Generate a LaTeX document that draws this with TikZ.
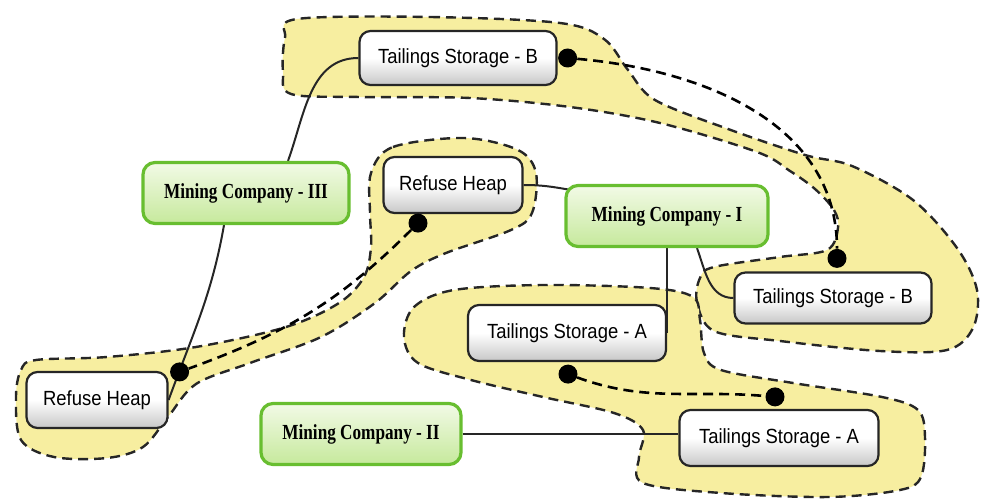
\documentclass[tikz,border=0pt]{standalone}
\usepackage{xcolor}
\usepackage{fontspec}
\setmainfont{Liberation Serif}
\newfontfamily\storefont{Liberation Sans}[FakeStretch=0.9]
\newfontfamily\firmfont{Liberation Serif}[FakeStretch=0.8]
\usepackage{tikz}
\usetikzlibrary{positioning,backgrounds,calc}
\definecolor{zoneyellow}{RGB}{247,238,160}
\definecolor{firmgreen}{RGB}{104,190,48}
\definecolor{firmtop}{RGB}{242,250,230}
\definecolor{firmbottom}{RGB}{198,233,156}

\begin{document}
\begin{tikzpicture}[
        x=1pt, y=-1pt,
        store/.style={rectangle, rounded corners=11pt, draw=black!85, line width=2.2pt, top color=white, bottom color=black!22, middle color=white, minimum width=197pt, minimum height=54pt, font=\storefont\fontsize{20.5}{22}\selectfont},
        firm/.style={rectangle, rounded corners=12pt, draw=firmgreen, line width=3.2pt, top color=firmtop, bottom color=firmbottom, minimum width=202pt, minimum height=61pt, font=\firmfont\bfseries\fontsize{21.5}{23}\selectfont},
        zone/.style={fill=zoneyellow, draw=black!85, line width=2.4pt, dash pattern=on 10pt off 6pt},
        link/.style={draw=black!85, line width=2pt},
        share/.style={draw=black, line width=2.6pt, dash pattern=on 10pt off 6pt},
        dot/.style={circle, fill=black, inner sep=0pt, minimum size=19pt},
      ]
      \useasboundingbox (0,0) rectangle (982,502);
      \node [store] (tsb1) at (458,58) {Tailings Storage - B};
      \node [firm, minimum width=206pt] (mc3) at (246,193) {Mining Company - III};
      \node [store, minimum width=139pt, minimum height=56pt] (rh1) at (453,185) {Refuse Heap};
      \node [firm] (mc1) at (667,216) {Mining Company - I};
      \node [store, minimum height=51pt] (tsb2) at (833,298) {Tailings Storage - B};
      \node [store, minimum width=198pt, minimum height=56pt] (tsa1) at (567,333) {Tailings Storage - A};
      \node [store, minimum width=141pt, minimum height=56pt] (rh2) at (97,400) {Refuse Heap};
      \node [firm, minimum width=200pt] (mc2) at (361,434) {Mining Company - II};
      \node [store, minimum width=199pt, minimum height=56pt] (tsa2) at (779,438) {Tailings Storage - A};
      \node [dot] (tsb1dot) at ([xshift=10pt]tsb1.east) {};
      \node [dot] (tsb2dot) at ([xshift=4pt,yshift=13pt]tsb2.north) {};
      \node [dot] (rh1dot) at ([xshift=-35pt,yshift=-9pt]rh1.south) {};
      \node [dot] (rh2dot) at ([xshift=11pt,yshift=-1pt]rh2.north east) {};
      \node [dot] (tsa1dot) at ([xshift=1pt,yshift=-12pt]tsa1.south) {};
      \node [dot] (tsa2dot) at ([xshift=-4pt,yshift=12pt]tsa2.north) {};
      \begin{scope}[on background layer]
        \draw [zone] plot [smooth cycle, tension=0.55] coordinates {
          (297,19) (430,17) (560,23) (604,39) (628,70) (655,100) (728,129) (805,155)
          (852,166) (913,200) (957,248) (977,290) (973,328) (947,350) (880,351)
          (780,341) (714,331) (697,302) (700,278) (714,267) (780,257) (827,250)
          (838,228) (834,210) (815,189) (790,171) (757,152) (660,123) (570,107)
          (470,98) (360,97) (291,94) (283,72) (285,38)};
        \draw [zone] plot [smooth cycle, tension=0.55] coordinates {
          (371,173) (393,147) (464,138) (518,150) (536,173) (532,213) (511,230)
          (446,253) (411,271) (375,303) (321,337) (250,363) (196,384) (168,417)
          (143,447) (107,458) (54,457) (21,440) (16,397) (21,370) (36,360)
          (107,357) (196,347) (286,327) (339,303) (364,277) (371,247) (370,213)};
        \draw [zone] plot [smooth cycle, tension=0.55] coordinates {
          (404,337) (414,307) (454,290) (543,285) (650,288) (693,297) (700,320)
          (704,353) (721,370) (793,383) (882,397) (918,410) (925,437) (921,477)
          (900,490) (829,497) (721,493) (643,483) (639,457) (643,430) (614,413)
          (543,397) (471,380) (418,363)};
        \draw [link] ([xshift=42pt]mc3.north) to [out=70, in=180] (tsb1.west);
        \draw [link] ([xshift=-22pt]mc3.south) to [out=-100, in=70] (rh2.east);
        \draw [link] (rh1.east) to [out=0, in=170] ([xshift=6pt,yshift=-6pt]mc1.north west);
        \draw [link] (mc1.south -| tsa1.east) -- (tsa1.east);
        \draw [link] ([xshift=30pt]mc1.south) to [out=-70, in=180] (tsb2.west);
        \draw [link] (mc2.east) -- (mc2.east -| tsa2.west);
      \end{scope}
      \draw [share] (tsb1dot) to [out=-5, in=90] (tsb2dot);
      \draw [share] (rh1dot) to [out=-135, in=20] (rh2dot);
      \draw [share] (tsa1dot) to [out=-20, in=175] (tsa2dot);
    \end{tikzpicture}
\end{document}
